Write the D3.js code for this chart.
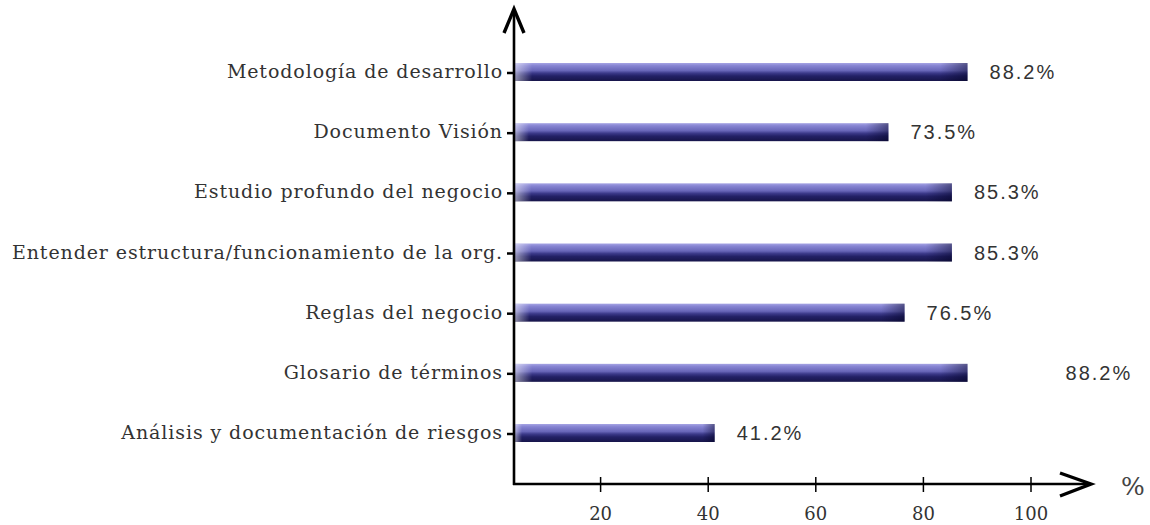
<!DOCTYPE html>
<html>
<head>
<meta charset="utf-8">
<script src="https://cdn.jsdelivr.net/npm/d3@7"></script>
<style>
  html, body { margin: 0; padding: 0; background: #fff; }
  svg { display: block; }
</style>
</head>
<body>
<svg id="chart" width="1150" height="525"></svg>
<script>
// Activities of the requirements phase and the share of projects applying each one
const categories = [
  "Metodología de desarrollo",
  "Documento Visión",
  "Estudio profundo del negocio",
  "Entender estructura/funcionamiento de la org.",
  "Reglas del negocio",
  "Glosario de términos",
  "Análisis y documentación de riesgos"
];
const values = [88.2, 73.5, 85.3, 85.3, 76.5, 88.2, 41.2];
const tickValues = [20, 40, 60, 80, 100];
const axisUnit = "%";

const serif = "'DejaVu Serif', serif";
const sans = "'Liberation Sans', Arial, sans-serif";

const svg = d3.select("#chart");

const x = d3.scaleLinear().domain([0, 100]).range([493, 1031]);
const y = d3.scalePoint().domain(categories).range([72, 433]);

const axisX = 514;      // where the vertical axis sits
const axisY = 484;      // where the horizontal axis sits
const barH = 18;

// Cylinder-like shading for the bars
const defs = svg.append("defs");
const grad = defs.append("linearGradient")
  .attr("id", "barFill").attr("x1", 0).attr("y1", 0).attr("x2", 0).attr("y2", 1);
[["0%", "#a6a4e4"], ["15%", "#8684d2"], ["42%", "#6866b8"], ["56%", "#3c3a8a"],
 ["72%", "#232166"], ["100%", "#17154a"]]
  .forEach(([o, c]) => grad.append("stop").attr("offset", o).attr("stop-color", c));

const endShade = defs.append("linearGradient")
  .attr("id", "endShade").attr("x1", 0).attr("y1", 0).attr("x2", 1).attr("y2", 0);
[["0%", "#ffffff", 0.55], ["4%", "#ffffff", 0.0], ["94%", "#000020", 0.0], ["100%", "#000020", 0.45]]
  .forEach(([o, c, a]) => endShade.append("stop").attr("offset", o)
    .attr("stop-color", c).attr("stop-opacity", a));

const bars = svg.append("g");
categories.forEach((cat, i) => {
  const x0 = axisX, x1 = x(values[i]);
  bars.append("rect")
    .attr("x", x0).attr("y", y(cat) - barH / 2)
    .attr("width", x1 - x0).attr("height", barH)
    .attr("fill", "url(#barFill)");
  bars.append("rect")
    .attr("x", x0).attr("y", y(cat) - barH / 2)
    .attr("width", x1 - x0).attr("height", barH)
    .attr("fill", "url(#endShade)");
});

// Value labels to the right of each bar
const labelShift = { "Glosario de términos": 76 };
svg.append("g").selectAll("text")
  .data(categories)
  .join("text")
  .attr("x", (d, i) => x(values[i]) + 22 + (labelShift[d] || 0))
  .attr("y", d => y(d) + 7)
  .attr("font-family", sans)
  .attr("font-size", 20)
  .attr("letter-spacing", 2)
  .attr("fill", "#333")
  .text((d, i) => values[i].toFixed(1) + "%");

// Category labels
svg.append("g").selectAll("text")
  .data(categories)
  .join("text")
  .attr("x", 503)
  .attr("y", d => y(d) + 6)
  .attr("text-anchor", "end")
  .attr("font-family", serif)
  .attr("font-size", 19)
  .attr("letter-spacing", 0.9)
  .attr("fill", "#333")
  .text(d => d);

// Y ticks (small marks to the left of the axis)
svg.append("g").selectAll("line")
  .data(categories)
  .join("line")
  .attr("x1", 507).attr("x2", axisX)
  .attr("y1", d => y(d) + 1).attr("y2", d => y(d) + 1)
  .attr("stroke", "#000").attr("stroke-width", 2.5);

// X ticks and labels
const xt = svg.append("g");
xt.selectAll("line")
  .data(tickValues)
  .join("line")
  .attr("x1", d => x(d)).attr("x2", d => x(d))
  .attr("y1", axisY - 7).attr("y2", axisY + 8)
  .attr("stroke", "#000").attr("stroke-width", 1.5);
xt.selectAll("text")
  .data(tickValues)
  .join("text")
  .attr("x", d => x(d))
  .attr("y", 520)
  .attr("text-anchor", "middle")
  .attr("font-family", serif)
  .attr("font-size", 18)
  .attr("fill", "#333")
  .text(d => d);

// Axes with open arrowheads
const axes = svg.append("g").attr("fill", "none").attr("stroke", "#000");
axes.append("line")
  .attr("x1", axisX).attr("y1", axisY + 1).attr("x2", axisX).attr("y2", 10)
  .attr("stroke-width", 2.6);
axes.append("line")
  .attr("x1", axisX - 1).attr("y1", axisY).attr("x2", 1090).attr("y2", axisY)
  .attr("stroke-width", 2.6);
axes.append("path")
  .attr("d", `M${axisX - 10},33 L${axisX},9 L${axisX + 10},33`)
  .attr("stroke-width", 3.4).attr("stroke-linejoin", "miter");
axes.append("path")
  .attr("d", `M1060,473 L1091,${axisY} L1060,496`)
  .attr("stroke-width", 3.4).attr("stroke-linejoin", "miter");

svg.append("text")
  .attr("x", 1133).attr("y", 495)
  .attr("text-anchor", "middle")
  .attr("font-family", serif)
  .attr("font-size", 25)
  .attr("fill", "#444")
  .text(axisUnit);
</script>
</body>
</html>
